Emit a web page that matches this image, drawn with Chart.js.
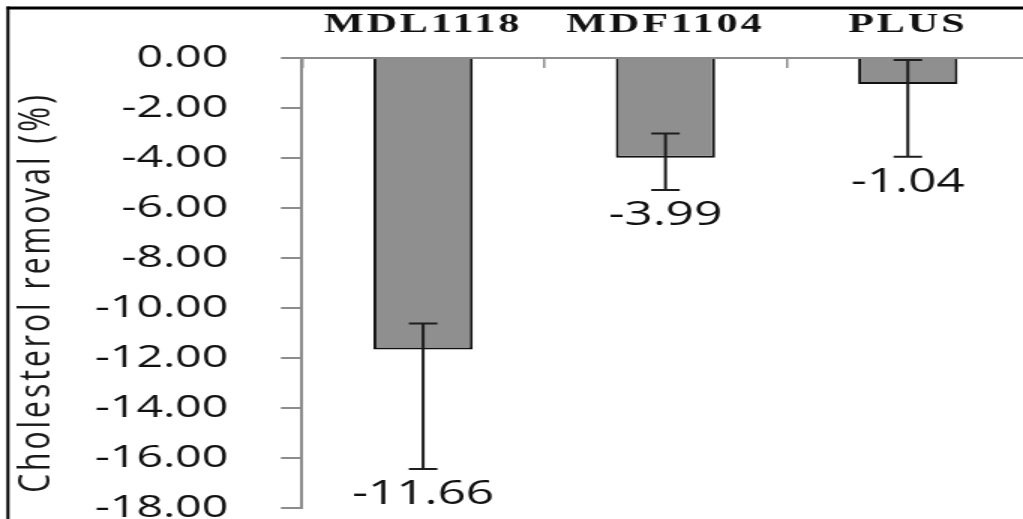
<!DOCTYPE html>
<html>
<head>
<meta charset="utf-8">
<script src="https://cdn.jsdelivr.net/npm/chart.js@4.4.1/dist/chart.umd.min.js"></script>
<style>
  html, body { margin: 0; padding: 0; background: #fff; overflow: hidden; width: 1023px; height: 519px; }
  #wrap { position: absolute; left: 0; top: 0; width: 1029px; height: 519px; }
  #c { display: block; width: 1029px !important; height: 519px !important; }
</style>
</head>
<body>
<div id="wrap"><canvas id="c" width="686" height="519"></canvas></div>
<script>
// Strains and their mean cholesterol removal (%)
const categories = ['MDL1118', 'MDF1104', 'PLUS'];
const removal = [-11.66, -3.99, -1.04];
// Error bar ends (upper / lower), in %
const errHigh = [-10.62, -3.02, -0.08];
const errLow = [-16.44, -5.28, -3.95];
// Value axis range and step
const yMin = -18;
const yMax = 0;
const yStep = 2;
const yTitle = 'Cholesterol removal (%)';

// Frame along the top and left edges
const framePlugin = {
  id: 'frame',
  beforeDraw(chart) {
    const c = chart.ctx;
    c.save();
    c.fillStyle = '#fff';
    c.fillRect(0, 0, chart.width, chart.height);
    c.strokeStyle = '#000';
    c.lineWidth = 3;
    c.beginPath();
    c.moveTo(4.5, 8);
    c.lineTo(chart.width, 8);
    c.stroke();
    c.lineWidth = 2;
    c.beginPath();
    c.moveTo(5.3, 6.5);
    c.lineTo(5.3, chart.height);
    c.stroke();
    c.restore();
  }
};

// Category labels get a little extra letter spacing
const spacedLabels = {
  id: 'spacedLabels',
  afterLayout(chart) {
    const sc = chart.scales.x;
    if (sc && !sc._spaced) {
      const draw = sc.drawLabels;
      sc.drawLabels = function (area) {
        const c = this.ctx;
        c.save();
        c.letterSpacing = '2px';
        draw.call(this, area);
        c.restore();
      };
      sc._spaced = true;
    }
  }
};

// Error bars with caps, plus the value printed under each one
const errorBars = {
  id: 'errorBars',
  afterDatasetsDraw(chart) {
    const c = chart.ctx;
    const y = chart.scales.y;
    const meta = chart.getDatasetMeta(0);
    c.save();
    c.strokeStyle = '#1e1e1e';
    c.lineWidth = 2;
    meta.data.forEach((bar, i) => {
      const x = bar.x;
      const y1 = y.getPixelForValue(errHigh[i]);
      const y2 = y.getPixelForValue(errLow[i]);
      const cap = 9.5;
      c.beginPath();
      c.moveTo(x, y1); c.lineTo(x, y2);
      c.moveTo(x - cap, y1); c.lineTo(x + cap, y1);
      c.moveTo(x - cap, y2); c.lineTo(x + cap, y2);
      c.stroke();
      c.fillStyle = '#111';
      c.font = '500 33px "Open Sans"';
      c.textAlign = 'center';
      c.textBaseline = 'alphabetic';
      c.fillText(removal[i].toFixed(2), x, y2 + 35);
    });
    c.restore();
  }
};

// Rotated value-axis title
const axisTitle = {
  id: 'axisTitle',
  afterDraw(chart) {
    const c = chart.ctx;
    c.save();
    c.translate(33.3, 292.5);
    c.rotate(-Math.PI / 2);
    c.fillStyle = '#1a1a1a';
    c.font = '30px "Open Sans"';
    c.letterSpacing = '3px';
    c.textAlign = 'center';
    c.textBaseline = 'alphabetic';
    c.fillText(yTitle, 0, 0);
    c.restore();
  }
};

const axisGray = '#8c8c8c';

new Chart(document.getElementById('c'), {
  type: 'bar',
  data: {
    labels: categories,
    datasets: [{
      data: removal,
      backgroundColor: '#8f8f8f',
      borderColor: '#111',
      borderWidth: 2,
      barPercentage: 0.41,
      categoryPercentage: 1.0
    }]
  },
  options: {
    responsive: false,
    devicePixelRatio: 1,
    animation: false,
    layout: { padding: { left: 0, right: 0, top: 0, bottom: 11 } },
    plugins: {
      legend: { display: false },
      tooltip: { enabled: false }
    },
    scales: {
      x: {
        position: 'top',
        z: 1,
        grid: {
          display: true,
          drawOnChartArea: false,
          drawTicks: true,
          tickLength: -10,
          color: axisGray,
          lineWidth: 1.5,
          offset: true
        },
        border: { display: true, color: axisGray, width: 2 },
        ticks: {
          color: '#111',
          padding: 26,
          font: { family: '"Liberation Serif", "Times New Roman", serif', size: 28, weight: 'bold' }
        },
        afterFit(s) { s.height = 58; }
      },
      y: {
        min: yMin,
        max: yMax,
        grid: {
          display: true,
          drawOnChartArea: false,
          drawTicks: true,
          tickLength: 14,
          color: axisGray,
          lineWidth: 2
        },
        border: { display: true, color: axisGray, width: 2 },
        ticks: {
          stepSize: yStep,
          color: '#111',
          padding: 35,
          font: { family: '"Open Sans", sans-serif', size: 31, weight: 500 },
          callback: (v) => Number(v).toFixed(2)
        },
        afterFit(s) {
          s.width = 201.3;
          // labels may hang past the plot edges; keep the plot at full height
          s.paddingTop = 0;
          s.paddingBottom = 0;
        }
      }
    }
  },
  plugins: [framePlugin, spacedLabels, errorBars, axisTitle]
});
</script>
</body>
</html>
